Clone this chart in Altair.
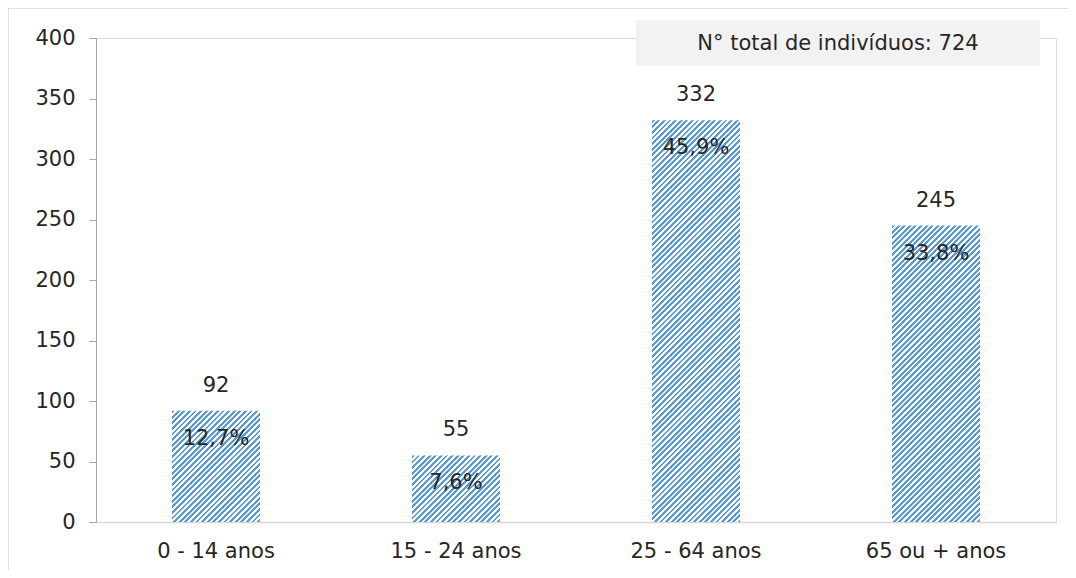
import altair as alt
import pandas as pd

categories = ["0 - 14 anos", "15 - 24 anos", "25 - 64 anos", "65 ou + anos"]
values = [92, 55, 332, 245]
percents = ["12,7%", "7,6%", "45,9%", "33,8%"]
total_label = "N° total de indivíduos: 724"

df = pd.DataFrame({"cat": categories, "val": values, "pct": percents})

W, H = 960, 484
YMAX = 400
FONT = "DejaVu Sans"
FS = 21
TXT = "#262626"
BLUE = "#5b9bd5"
BAR_W = W / 4 * 0.367
PERIOD = 5.6
BLUE_FRAC = 0.52

xscale = alt.Scale(domain=categories, paddingInner=0.633, paddingOuter=0.3165)
yscale = alt.Scale(domain=[0, YMAX], nice=False)

xenc = alt.X("cat:N", sort=categories, scale=xscale, title=None,
             axis=alt.Axis(labelAngle=0, ticks=False, domainColor="#d9d9d9", domainWidth=1.5,
                           labelFontSize=FS, labelFont=FONT, labelColor=TXT,
                           labelPadding=18, grid=False))
yenc = alt.Y("val:Q", scale=yscale, title=None,
             axis=alt.Axis(values=list(range(0, 401, 50)), tickSize=7, tickColor="#a6a6a6",
                           domainColor="#a6a6a6", labelFontSize=FS, labelFont=FONT,
                           labelColor=TXT, labelPadding=14, grid=False))


def stripe_gradient(v):
    w = BAR_W
    h = v * H / YMAX
    s = (w + h) / (w * w + h * h)
    n = (w + h) / PERIOD
    stops = []
    k = 0
    while k < n:
        a = k / n
        b = min((k + BLUE_FRAC) / n, 1)
        c = min((k + 1) / n, 1)
        stops += [alt.GradientStop(offset=a, color=BLUE), alt.GradientStop(offset=b, color=BLUE),
                  alt.GradientStop(offset=b, color="#ffffff"), alt.GradientStop(offset=c, color="#ffffff")]
        k += 1
    return alt.LinearGradient(gradient="linear", stops=stops, x1=0, y1=0, x2=s * w, y2=s * h)


base = alt.Chart(df)
first = alt.datum.cat == categories[0]

frame = base.transform_filter(first).mark_rect(fillOpacity=0, stroke="#bfbfbf", strokeWidth=1).encode(
    x=alt.value(-88), x2=alt.value(W + 200), y=alt.value(-30), y2=alt.value(H + 200))

bars = []
for c, v in zip(categories, values):
    bars.append(base.transform_filter(alt.datum.cat == c).mark_bar(
        color=stripe_gradient(v), strokeWidth=0
    ).encode(x=xenc, y=yenc))

val_text = base.mark_text(dy=-25, fontSize=FS, font=FONT, color=TXT).encode(
    x=alt.X("cat:N", sort=categories, scale=xscale), y=alt.Y("val:Q", scale=yscale), text="val:Q")
pct_text = base.mark_text(dy=28, fontSize=FS, font=FONT, color=TXT).encode(
    x=alt.X("cat:N", sort=categories, scale=xscale), y=alt.Y("val:Q", scale=yscale), text="pct:N")

box = base.transform_filter(first).mark_rect(color="#f2f2f2").encode(
    x=alt.value(540), x2=alt.value(944), y=alt.value(-18), y2=alt.value(28))
box_text = base.transform_filter(first).mark_text(fontSize=FS, font=FONT, color=TXT).encode(
    x=alt.value(742), y=alt.value(6), text=alt.value(total_label))

chart = alt.layer(frame, *bars, val_text, pct_text, box, box_text).properties(
    width=W, height=H,
    autosize=alt.AutoSizeParams(type="none"),
    padding={"left": 88, "top": 30, "right": 12, "bottom": 48},
).configure_view(stroke=None).configure(background="white")

chart.save("out.html", embed_options={"renderer": "svg", "actions": False})
